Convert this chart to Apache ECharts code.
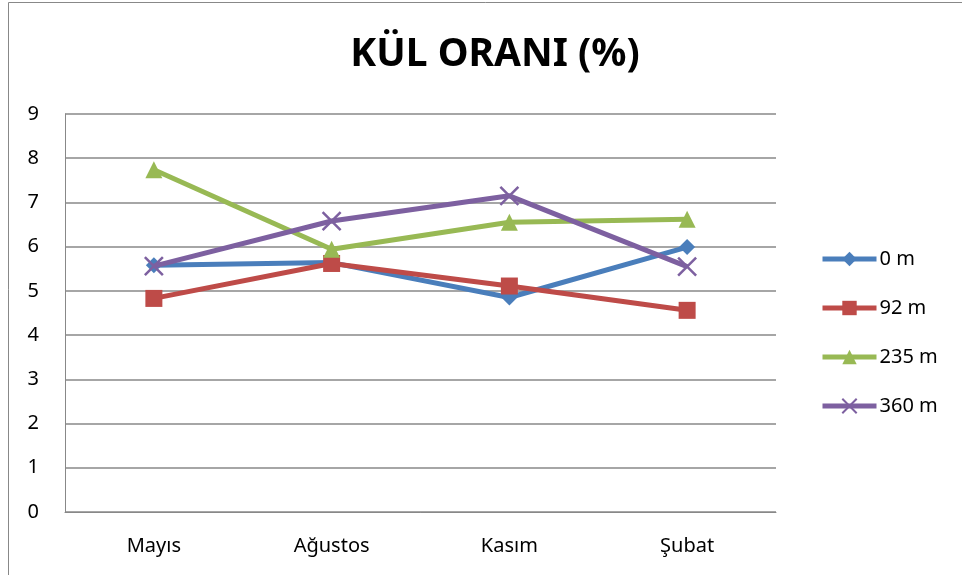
<!DOCTYPE html>
<html><head><meta charset="utf-8">
<script src="https://cdn.jsdelivr.net/npm/echarts@6/dist/echarts.min.js"></script>
<style>html,body{margin:0;padding:0;background:#fff}#c{width:962px;height:575px}</style>
</head><body><div id="c"></div>
<script>
const categories = ['Mayıs', 'Ağustos', 'Kasım', 'Şubat'];
const seriesNames = ['0 m', '92 m', '235 m', '360 m'];
const s0 = [5.58, 5.64, 4.85, 5.99];
const s92 = [4.83, 5.62, 5.11, 4.56];
const s235 = [7.74, 5.94, 6.55, 6.62];
const s360 = [5.56, 6.58, 7.15, 5.55];
const yTicks = [0, 1, 2, 3, 4, 5, 6, 7, 8, 9];

const colors = ['#4A7EBB', '#BE4B48', '#98B954', '#7D60A0'];
const symbols = ['diamond', 'rect', 'triangle', 'path://M0,0L10,10M10,0L0,10'];
const sizes = [16, 17, 17, 18];
const data = [s0, s92, s235, s360];
const font = '"Noto Sans", "Open Sans", sans-serif';

const chart = echarts.init(document.getElementById('c'), null, {renderer: 'canvas'});
chart.setOption({
  animation: false,
  backgroundColor: '#fff',
  title: {
    text: 'KÜL ORANI (%)', left: 490, top: 30, textAlign: 'center',
    textStyle: {fontFamily: font, fontWeight: 'bold', fontSize: 39, color: '#000'}
  },
  graphic: [{
    type: 'rect', shape: {x: 8.5, y: 2.5, width: 1000, height: 1000},
    style: {fill: null, stroke: '#888', lineWidth: 1}, silent: true
  }],
  grid: {left: 65, top: 114, width: 711, height: 398, containLabel: false},
  legend: {
    orient: 'vertical', left: 815, top: 244, itemGap: 29,
    itemWidth: 54, itemHeight: 18,
    textStyle: {fontFamily: font, fontSize: 20, color: '#000', padding: [0,0,0,-2]},
    data: seriesNames.map((n, i) => ({name: n, lineStyle: {width: 5, color: colors[i]}}))
  },
  xAxis: {
    type: 'category', data: categories, boundaryGap: true,
    axisLine: {show: true, lineStyle: {color: '#888', width: 1}},
    axisTick: {show: false},
    axisLabel: {fontFamily: font, fontSize: 20, color: '#000', margin: 24}
  },
  yAxis: {
    type: 'value', min: 0, max: 9, interval: 1,
    axisLine: {show: true, lineStyle: {color: '#888', width: 1}},
    axisTick: {show: false},
    splitLine: {lineStyle: {color: '#888', width: 1.5}},
    axisLabel: {fontFamily: font, fontSize: 20, color: '#000', margin: 26,
      formatter: v => yTicks.includes(v) ? String(v) : ''}
  },
  series: data.map((d, i) => ({
    name: seriesNames[i], type: 'line', data: d,
    symbol: symbols[i], symbolSize: sizes[i],
    showAllSymbol: true,
    lineStyle: {color: colors[i], width: 5},
    itemStyle: i === 3 ? {color: colors[i], borderColor: colors[i], borderWidth: 2.5} : {color: colors[i], borderWidth: 0},
    z: 2 + i
  }))
});
</script></body></html>
